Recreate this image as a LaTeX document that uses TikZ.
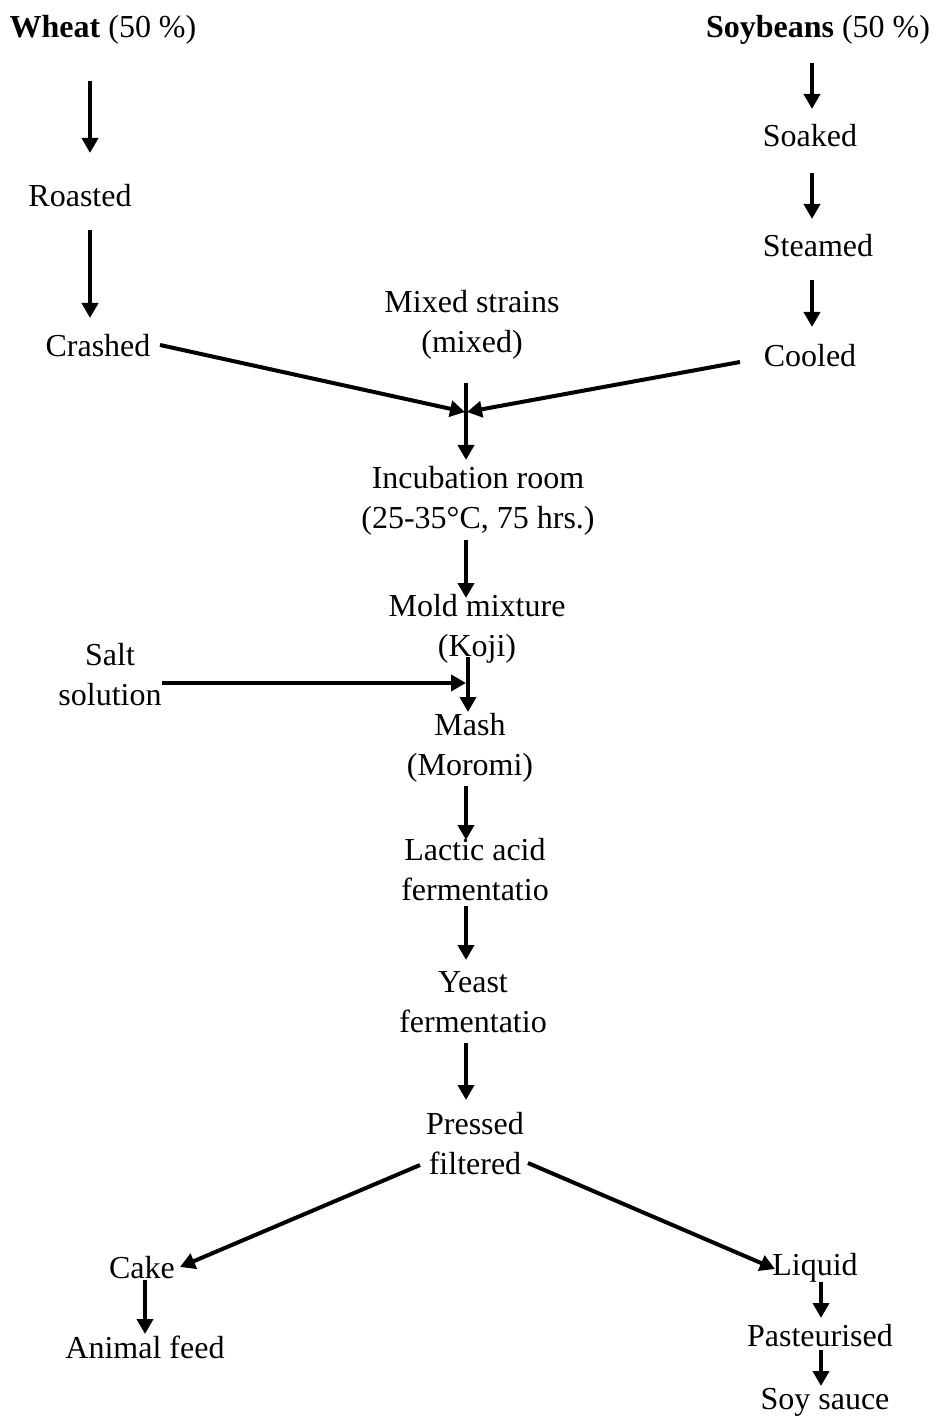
\documentclass[tikz,border=0pt]{standalone}
\usepackage{fontspec}
\setmainfont{Liberation Serif}
\usetikzlibrary{arrows.meta}
\begin{document}
\begin{tikzpicture}[x=0.5pt,y=-0.5pt,
  lbl/.style={inner sep=0pt,align=center,font=\fontsize{16}{20}\selectfont},
  arr/.style={line width=2pt,-{Triangle[width=8pt,length=7.5pt]}}]
\useasboundingbox (0,0) rectangle (936,1416);
% nodes
\node[lbl] (wheat) at (103,30) {\textbf{Wheat} (50 \%)};
\node[lbl] (soy) at (818,30) {\textbf{Soybeans} (50 \%)};
\node[lbl] (roast) at (80,196) {Roasted};
\node[lbl] (crash) at (98,346) {Crashed};
\node[lbl] (soak) at (810,136) {Soaked};
\node[lbl] (steam) at (818,246) {Steamed};
\node[lbl] (cool) at (810,356) {Cooled};
\node[lbl] (mixed) at (472,325) {Mixed strains\\(mixed)};
\node[lbl] (incub) at (478,501) {Incubation room\\(25-35°C, 75 hrs.)};
\node[lbl] (mold) at (477,629) {Mold mixture\\(Koji)};
\node[lbl] (salt) at (110,675) {Salt\\solution};
\node[lbl] (mash) at (470,748) {Mash\\(Moromi)};
\node[lbl] (lactic) at (475,870) {Lactic acid\\fermentatio};
\node[lbl] (yeast) at (473,1002) {Yeast\\fermentatio};
\node[lbl] (press) at (475,1144) {Pressed\\filtered};
\node[lbl] (cake) at (142,1268) {Cake};
\node[lbl] (feed) at (145,1347) {Animal feed};
\node[lbl] (liquid) at (815,1268) {Liquid};
\node[lbl] (past) at (820,1336) {Pasteurised};
\node[lbl] (sauce) at (825,1402) {Soy sauce};
% connector end points
\coordinate (w1) at (90,81);   \coordinate (w2) at (90,153);
\coordinate (w3) at (90,230);  \coordinate (w4) at (90,318);
\coordinate (s1) at (812,63);  \coordinate (s2) at (812,109);
\coordinate (s3) at (812,173); \coordinate (s4) at (812,219);
\coordinate (s5) at (812,280); \coordinate (s6) at (812,327);
\coordinate (c1) at (160,345); \coordinate (j1) at (466,412);
\coordinate (c2) at (740,362);
\coordinate (m1) at (466,383); \coordinate (m2) at (466,460);
\coordinate (i1) at (466,540); \coordinate (i2) at (466,598);
\coordinate (k1) at (468,657); \coordinate (k2) at (468,712);
\coordinate (t1) at (162,683); \coordinate (t2) at (468,683);
\coordinate (h1) at (466,786); \coordinate (h2) at (466,840);
\coordinate (l1) at (466,906); \coordinate (l2) at (466,960);
\coordinate (y1) at (466,1043); \coordinate (y2) at (466,1100);
\coordinate (p1) at (420,1165); \coordinate (p2) at (180,1267);
\coordinate (p3) at (528,1163); \coordinate (p4) at (775,1269);
\coordinate (a1) at (145,1280); \coordinate (a2) at (145,1334);
\coordinate (q1) at (821,1282); \coordinate (q2) at (821,1318);
\coordinate (q3) at (821,1350); \coordinate (q4) at (821,1386);
% connectors
\draw[arr] (w1) -- (w2);
\draw[arr] (w3) -- (w4);
\draw[arr] (s1) -- (s2);
\draw[arr] (s3) -- (s4);
\draw[arr] (s5) -- (s6);
\draw[arr] (c1) -- ([xshift=-0.5pt]j1);
\draw[arr] (c2) -- ([xshift=0.5pt]j1);
\draw[arr] (m1) -- (m2);
\draw[arr] (i1) -- (i2);
\draw[arr] (k1) -- (k2);
\draw[arr] (t1) -- ([xshift=-1pt]t2);
\draw[arr] (h1) -- (h2);
\draw[arr] (l1) -- (l2);
\draw[arr] (y1) -- (y2);
\draw[arr] (p1) -- (p2);
\draw[arr] (p3) -- (p4);
\draw[arr] (a1) -- (a2);
\draw[arr] (q1) -- (q2);
\draw[arr] (q3) -- (q4);
\end{tikzpicture}
\end{document}
